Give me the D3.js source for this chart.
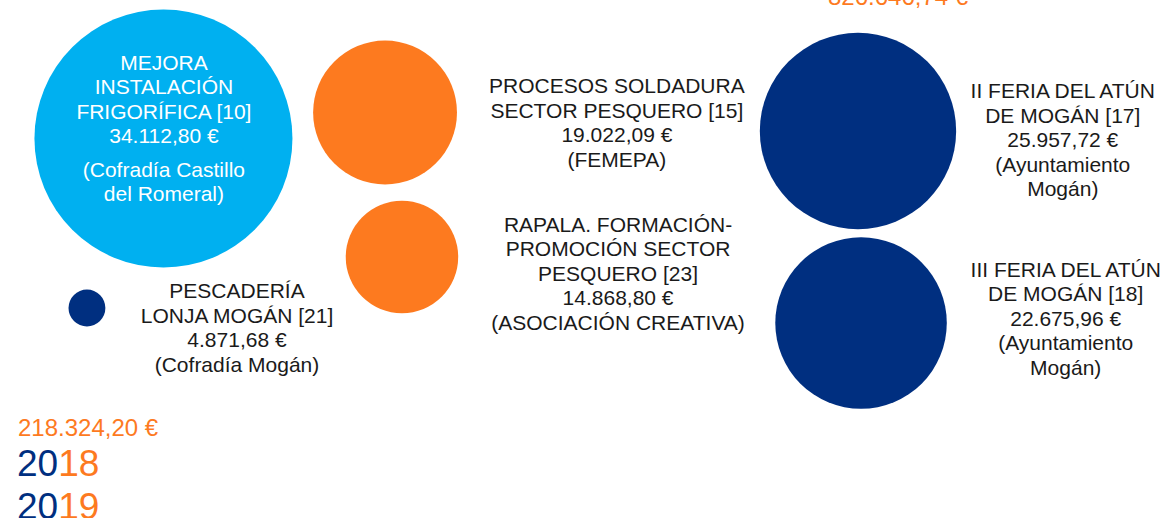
<!DOCTYPE html>
<html>
<head>
<meta charset="utf-8">
<script src="https://cdn.jsdelivr.net/npm/d3@7"></script>
<style>
  html, body { margin: 0; padding: 0; background: #fff; }
  svg { display: block; font-family: "Liberation Sans", Arial, sans-serif; }
</style>
</head>
<body>
<svg id="chart"></svg>
<script>
// data
const titles = [
    ["MEJORA", "INSTALACIÓN", "FRIGORÍFICA [10]"],
    ["PROCESOS SOLDADURA", "SECTOR PESQUERO [15]"],
    ["RAPALA. FORMACIÓN-", "PROMOCIÓN SECTOR", "PESQUERO [23]"],
    ["II FERIA DEL ATÚN", "DE MOGÁN [17]"],
    ["III FERIA DEL ATÚN", "DE MOGÁN [18]"],
    ["PESCADERÍA", "LONJA MOGÁN [21]"]
];
const amounts = [34112.80, 19022.09, 14868.80, 25957.72, 22675.96, 4871.68];
const entities = [
    ["(Cofradía Castillo", "del Romeral)"],
    ["(FEMEPA)"],
    ["(ASOCIACIÓN CREATIVA)"],
    ["(Ayuntamiento", "Mogán)"],
    ["(Ayuntamiento", "Mogán)"],
    ["(Cofradía Mogán)"]
];
const groups = ["frio", "naranja", "naranja", "azul", "azul", "azul"];
const totalTop = 826646.74;
const totalBottom = 218324.20;
const years = ["2018", "2019"];

// layout (percent of the page)
const bubbleX = [13.91, 32.77, 34.21, 73.02, 73.28, 7.40];
const bubbleY = [26.74, 21.72, 49.61, 25.29, 62.36, 59.46];
const labelX = [13.95, 52.5, 52.6, 90.45, 90.7, 20.17];
const labelY = [13.5, 18.0, 44.75, 18.95, 53.45, 57.6];

const W = 1175, H = 518;
const svg = d3.select("#chart").attr("width", W).attr("height", H);

const x = d3.scaleLinear().domain([0, 100]).range([0, W]);
const y = d3.scaleLinear().domain([0, 100]).range([0, H]);
const r = d3.scaleLinear().domain([0, d3.max(amounts)]).range([0, 129]);

const color = d3.scaleOrdinal()
    .domain(["frio", "naranja", "azul"])
    .range(["#00b0f0", "#fd7a1f", "#002f80"]);

const es = d3.formatLocale({ decimal: ",", thousands: ".", grouping: [3], currency: ["", " €"] });
const euro = v => es.format(",.2f")(v) + " €";

const items = amounts.map((v, i) => ({
    title: titles[i], amount: v, entity: entities[i], group: groups[i],
    cx: x(bubbleX[i]), cy: y(bubbleY[i]), lx: x(labelX[i]), ly: y(labelY[i])
}));

// bubbles
svg.append("g").selectAll("circle")
    .data(items)
    .join("circle")
    .attr("cx", d => d.cx)
    .attr("cy", d => d.cy)
    .attr("r", d => r(d.amount))
    .attr("fill", d => color(d.group));

// labels
const lineH = 24.5;
const labels = svg.append("g").selectAll("text")
    .data(items)
    .join("text")
    .attr("text-anchor", "middle")
    .attr("font-size", 21)
    .attr("fill", d => d.group === "frio" ? "#ffffff" : "#1a1a1a");

labels.each(function (d) {
    const t = d3.select(this);
    const gap = d.group === "frio" ? 9 : 0;
    const lines = [...d.title, euro(d.amount)];
    lines.forEach((s, k) => {
        t.append("tspan").attr("x", d.lx).attr("y", d.ly + k * lineH).text(s);
    });
    d.entity.forEach((s, k) => {
        t.append("tspan").attr("x", d.lx)
            .attr("y", d.ly + (lines.length + k) * lineH + gap).text(s);
    });
});

// totals and years
svg.append("text")
    .attr("x", 828).attr("y", 5)
    .attr("font-size", 24).attr("fill", "#fd7a1f")
    .text(euro(totalTop));

svg.append("text")
    .attr("x", 18).attr("y", 436)
    .attr("font-size", 24).attr("fill", "#fd7a1f")
    .text(euro(totalBottom));

svg.append("g").selectAll("text")
    .data(years)
    .join("text")
    .attr("x", 17)
    .attr("y", (d, i) => 476 + i * 43)
    .attr("font-size", 37)
    .each(function (d) {
        const t = d3.select(this);
        t.append("tspan").attr("fill", "#002f80").text(d.slice(0, 2));
        t.append("tspan").attr("fill", "#fd7a1f").text(d.slice(2));
    });
</script>
</body>
</html>
